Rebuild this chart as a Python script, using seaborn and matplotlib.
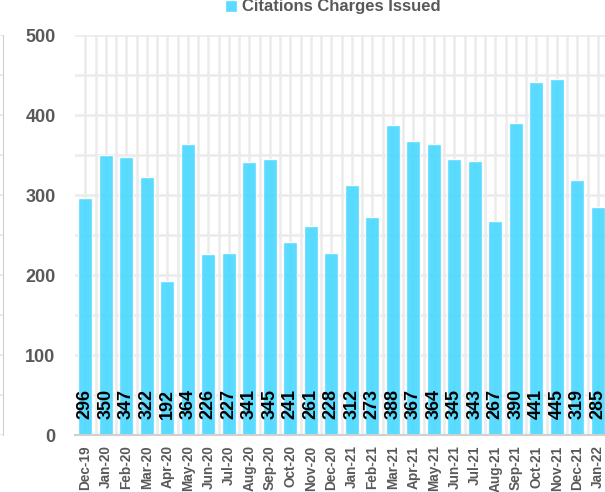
import numpy as np
import pandas as pd
import matplotlib
matplotlib.use('Agg')
import matplotlib.pyplot as plt
import seaborn as sns

# Monthly data
months = ['Dec-19', 'Jan-20', 'Feb-20', 'Mar-20', 'Apr-20', 'May-20', 'Jun-20',
          'Jul-20', 'Aug-20', 'Sep-20', 'Oct-20', 'Nov-20', 'Dec-20', 'Jan-21',
          'Feb-21', 'Mar-21', 'Apr-21', 'May-21', 'Jun-21', 'Jul-21', 'Aug-21',
          'Sep-21', 'Oct-21', 'Nov-21', 'Dec-21', 'Jan-22']
citations = [296, 350, 347, 322, 192, 364, 226, 227, 341, 345, 241, 261, 228,
             312, 273, 388, 367, 364, 345, 343, 267, 390, 441, 445, 319, 285]
series_name = 'Citations Charges Issued'

sns.set_style("white")
plt.rcParams['font.family'] = ['Liberation Sans', 'DejaVu Sans']
plt.rcParams['font.weight'] = 'bold'

BAR = '#4DD9FF'
GRID = '#EBEBEB'
TEXT = '#595959'

df = pd.DataFrame({'month': months, 'count': citations})

W, H = 605, 492
fig = plt.figure(figsize=(W / 100, H / 100), dpi=100)
ax = fig.add_axes([75 / W, (H - 435) / H, 533 / W, 400 / H])

sns.barplot(data=df, x='month', y='count', color=BAR, width=0.68,
            saturation=1, alpha=0.93, label=series_name, ax=ax, zorder=2)

ax.set_xlim(-0.5, len(months) - 0.5)
ax.set_ylim(0, 500)
ax.set_yticks(np.arange(0, 501, 100))
ax.set_yticks(np.arange(0, 501, 50), minor=True)
ax.set_xticks(np.arange(len(months)) + 0.5, minor=True)
ax.grid(which='both', color=GRID, linewidth=1.8, zorder=0)
ax.set_axisbelow(True)
ax.tick_params(which='both', length=0)
ax.tick_params(axis='y', pad=14, labelsize=13, labelcolor=TEXT)
ax.tick_params(axis='x', pad=7.5, labelsize=9.8, labelcolor=TEXT, rotation=90)
for lbl in ax.get_xticklabels() + ax.get_yticklabels():
    lbl.set_fontweight('bold')
ax.set_xlabel('')
ax.set_ylabel('')
for side in ['top', 'right', 'left']:
    ax.spines[side].set_visible(False)
ax.spines['bottom'].set_color('#D0D0D0')
ax.spines['bottom'].set_linewidth(1.5)

# value labels at the base of each bar
for i, v in enumerate(citations):
    ax.text(i, 20, str(v), rotation=90, ha='center', va='bottom',
            fontsize=13, fontweight='bold', color='black', zorder=3)

# edge of neighbouring chart at the far left
ax2 = fig.add_axes([-0.1, (H - 435) / H, 0.1 + 3 / W, 400 / H])
ax2.set_ylim(0, 500)
ax2.set_yticks(np.arange(0, 501, 50))
ax2.set_xticks([])
ax2.grid(axis='y', color=GRID, linewidth=1.5)
ax2.tick_params(length=0, labelleft=False)
for side in ['top', 'left', 'bottom']:
    ax2.spines[side].set_visible(False)
ax2.spines['right'].set_color('#D0D0D0')

leg = ax.legend(loc='center', bbox_to_anchor=(333 / W, 1 - 7 / H),
                bbox_transform=fig.transFigure, frameon=False,
                handlelength=0.75, handleheight=0.75, handletextpad=0.3,
                prop={'weight': 'bold', 'size': 12})
for t in leg.get_texts():
    t.set_color(TEXT)

fig.savefig('out.png', dpi=100)
